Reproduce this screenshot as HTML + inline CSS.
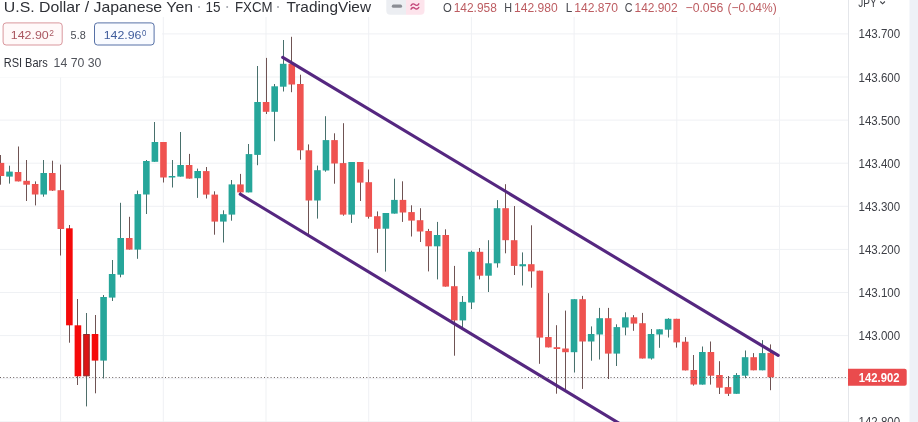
<!DOCTYPE html>
<html><head><meta charset="utf-8"><title>USDJPY chart</title>
<style>html,body{margin:0;padding:0;background:#fff;width:918px;height:422px;overflow:hidden;font-family:"Liberation Sans", sans-serif}</style>
</head><body>
<svg width="918" height="422" viewBox="0 0 918 422" style="display:block;will-change:transform;font-family:'Liberation Sans', sans-serif">
<rect x="60.10" y="17" width="1" height="405" fill="#eff1f4"/>
<rect x="162.80" y="17" width="1" height="405" fill="#eff1f4"/>
<rect x="265.50" y="17" width="1" height="405" fill="#eff1f4"/>
<rect x="368.20" y="17" width="1" height="405" fill="#eff1f4"/>
<rect x="470.90" y="17" width="1" height="405" fill="#eff1f4"/>
<rect x="573.60" y="17" width="1" height="405" fill="#eff1f4"/>
<rect x="676.30" y="17" width="1" height="405" fill="#eff1f4"/>
<rect x="779.00" y="17" width="1" height="405" fill="#eff1f4"/>
<rect x="0" y="33.40" width="848" height="1" fill="#eff1f4"/>
<rect x="0" y="76.50" width="848" height="1" fill="#eff1f4"/>
<rect x="0" y="119.60" width="848" height="1" fill="#eff1f4"/>
<rect x="0" y="162.70" width="848" height="1" fill="#eff1f4"/>
<rect x="0" y="205.80" width="848" height="1" fill="#eff1f4"/>
<rect x="0" y="248.90" width="848" height="1" fill="#eff1f4"/>
<rect x="0" y="292.00" width="848" height="1" fill="#eff1f4"/>
<rect x="0" y="335.10" width="848" height="1" fill="#eff1f4"/>
<rect x="0" y="378.20" width="848" height="1" fill="#eff1f4"/>
<rect x="0" y="421.30" width="848" height="1" fill="#eff1f4"/>
<rect x="0" y="155.0" width="1" height="29.7" fill="#6f5353"/>
<rect x="-2.36" y="162.9" width="6.6" height="13.1" fill="#ef5350"/>
<rect x="9" y="165.7" width="1" height="17.9" fill="#48706c"/>
<rect x="6.19" y="171.6" width="6.6" height="5.0" fill="#26a69a"/>
<rect x="18" y="146.5" width="1" height="34.9" fill="#6f5353"/>
<rect x="14.75" y="172.0" width="6.6" height="9.4" fill="#ef5350"/>
<rect x="26" y="160.0" width="1" height="41.0" fill="#6f5353"/>
<rect x="23.30" y="180.8" width="6.6" height="3.9" fill="#ef5350"/>
<rect x="35" y="181.4" width="1" height="24.0" fill="#6f5353"/>
<rect x="31.85" y="184.0" width="6.6" height="10.5" fill="#ef5350"/>
<rect x="43" y="160.0" width="1" height="36.7" fill="#48706c"/>
<rect x="40.41" y="173.0" width="6.6" height="21.5" fill="#26a69a"/>
<rect x="52" y="160.7" width="1" height="30.3" fill="#6f5353"/>
<rect x="48.96" y="173.0" width="6.6" height="17.6" fill="#ef5350"/>
<rect x="60" y="164.6" width="1" height="90.9" fill="#6f5353"/>
<rect x="57.52" y="190.2" width="6.6" height="38.8" fill="#ef5350"/>
<rect x="69" y="225.0" width="1" height="117.7" fill="#6f5353"/>
<rect x="66.07" y="228.3" width="6.6" height="97.0" fill="#f50a0a"/>
<rect x="77" y="299.0" width="1" height="86.0" fill="#6f5353"/>
<rect x="74.62" y="325.3" width="6.6" height="51.0" fill="#f50a0a"/>
<rect x="86" y="313.0" width="1" height="93.4" fill="#4f6e6a"/>
<rect x="83.68" y="334.5" width="5.6" height="41.3" fill="#dc1515" stroke="#8f2a2a" stroke-width="1"/>
<rect x="95" y="315.0" width="1" height="78.3" fill="#6f5353"/>
<rect x="91.73" y="334.0" width="6.6" height="26.6" fill="#f50a0a"/>
<rect x="103" y="295.0" width="1" height="83.5" fill="#48706c"/>
<rect x="100.28" y="297.0" width="6.6" height="63.6" fill="#26a69a"/>
<rect x="112" y="260.0" width="1" height="41.0" fill="#48706c"/>
<rect x="108.84" y="274.0" width="6.6" height="23.6" fill="#26a69a"/>
<rect x="120" y="202.8" width="1" height="74.5" fill="#48706c"/>
<rect x="117.39" y="238.0" width="6.6" height="36.7" fill="#26a69a"/>
<rect x="129" y="216.8" width="1" height="32.8" fill="#6f5353"/>
<rect x="125.95" y="238.0" width="6.6" height="11.6" fill="#ef5350"/>
<rect x="137" y="190.6" width="1" height="68.2" fill="#48706c"/>
<rect x="134.50" y="194.1" width="6.6" height="55.5" fill="#26a69a"/>
<rect x="146" y="160.0" width="1" height="54.0" fill="#48706c"/>
<rect x="143.05" y="161.0" width="6.6" height="33.5" fill="#26a69a"/>
<rect x="154" y="122.0" width="1" height="39.8" fill="#48706c"/>
<rect x="151.61" y="142.0" width="6.6" height="19.8" fill="#26a69a"/>
<rect x="163" y="142.0" width="1" height="40.5" fill="#6f5353"/>
<rect x="160.16" y="142.0" width="6.6" height="35.5" fill="#ef5350"/>
<rect x="172" y="160.0" width="1" height="27.5" fill="#48706c"/>
<rect x="168.71" y="176.0" width="6.6" height="1.5" fill="#26a69a"/>
<rect x="180" y="132.0" width="1" height="44.6" fill="#48706c"/>
<rect x="177.27" y="165.0" width="6.6" height="11.6" fill="#26a69a"/>
<rect x="189" y="153.9" width="1" height="24.7" fill="#6f5353"/>
<rect x="185.82" y="165.0" width="6.6" height="13.6" fill="#ef5350"/>
<rect x="197" y="168.6" width="1" height="29.3" fill="#48706c"/>
<rect x="194.38" y="171.0" width="6.6" height="7.2" fill="#26a69a"/>
<rect x="206" y="167.0" width="1" height="31.5" fill="#6f5353"/>
<rect x="202.93" y="171.1" width="6.6" height="23.5" fill="#ef5350"/>
<rect x="214" y="191.3" width="1" height="43.4" fill="#6f5353"/>
<rect x="211.48" y="194.6" width="6.6" height="27.0" fill="#ef5350"/>
<rect x="223" y="210.3" width="1" height="32.2" fill="#48706c"/>
<rect x="220.04" y="214.2" width="6.6" height="7.4" fill="#26a69a"/>
<rect x="231" y="180.0" width="1" height="40.7" fill="#48706c"/>
<rect x="228.59" y="184.4" width="6.6" height="30.2" fill="#26a69a"/>
<rect x="240" y="173.9" width="1" height="19.6" fill="#6f5353"/>
<rect x="237.14" y="184.4" width="6.6" height="8.0" fill="#ef5350"/>
<rect x="248" y="144.0" width="1" height="48.4" fill="#48706c"/>
<rect x="245.70" y="154.1" width="6.6" height="38.3" fill="#26a69a"/>
<rect x="257" y="66.0" width="1" height="99.2" fill="#48706c"/>
<rect x="254.25" y="102.0" width="6.6" height="52.9" fill="#26a69a"/>
<rect x="266" y="57.9" width="1" height="56.1" fill="#6f5353"/>
<rect x="262.80" y="102.0" width="6.6" height="9.8" fill="#ef5350"/>
<rect x="274" y="84.0" width="1" height="57.2" fill="#48706c"/>
<rect x="271.36" y="86.3" width="6.6" height="25.5" fill="#26a69a"/>
<rect x="283" y="40.0" width="1" height="51.5" fill="#48706c"/>
<rect x="279.91" y="63.8" width="6.6" height="22.9" fill="#26a69a"/>
<rect x="291" y="36.8" width="1" height="55.4" fill="#6f5353"/>
<rect x="288.47" y="63.8" width="6.6" height="20.7" fill="#ef5350"/>
<rect x="300" y="74.7" width="1" height="85.0" fill="#6f5353"/>
<rect x="297.02" y="84.0" width="6.6" height="66.3" fill="#ef5350"/>
<rect x="308" y="144.4" width="1" height="92.0" fill="#6f5353"/>
<rect x="305.57" y="150.3" width="6.6" height="50.2" fill="#ef5350"/>
<rect x="317" y="165.6" width="1" height="53.0" fill="#48706c"/>
<rect x="314.13" y="170.2" width="6.6" height="30.3" fill="#26a69a"/>
<rect x="325" y="116.2" width="1" height="55.5" fill="#48706c"/>
<rect x="322.68" y="140.1" width="6.6" height="30.4" fill="#26a69a"/>
<rect x="334" y="133.3" width="1" height="50.4" fill="#6f5353"/>
<rect x="331.23" y="140.1" width="6.6" height="23.4" fill="#ef5350"/>
<rect x="343" y="123.2" width="1" height="92.5" fill="#6f5353"/>
<rect x="339.79" y="163.1" width="6.6" height="51.5" fill="#ef5350"/>
<rect x="351" y="162.0" width="1" height="60.9" fill="#48706c"/>
<rect x="348.34" y="162.0" width="6.6" height="52.6" fill="#26a69a"/>
<rect x="360" y="162.0" width="1" height="39.0" fill="#6f5353"/>
<rect x="356.90" y="162.0" width="6.6" height="20.6" fill="#ef5350"/>
<rect x="368" y="169.5" width="1" height="49.1" fill="#6f5353"/>
<rect x="365.45" y="182.2" width="6.6" height="34.6" fill="#ef5350"/>
<rect x="377" y="211.4" width="1" height="41.4" fill="#6f5353"/>
<rect x="374.00" y="216.2" width="6.6" height="12.6" fill="#ef5350"/>
<rect x="385" y="213.0" width="1" height="58.6" fill="#48706c"/>
<rect x="382.56" y="213.0" width="6.6" height="15.7" fill="#26a69a"/>
<rect x="394" y="178.7" width="1" height="34.9" fill="#48706c"/>
<rect x="391.11" y="199.9" width="6.6" height="13.7" fill="#26a69a"/>
<rect x="402" y="181.3" width="1" height="40.6" fill="#6f5353"/>
<rect x="399.66" y="199.9" width="6.6" height="12.6" fill="#ef5350"/>
<rect x="411" y="205.3" width="1" height="31.2" fill="#6f5353"/>
<rect x="408.22" y="212.1" width="6.6" height="8.5" fill="#ef5350"/>
<rect x="420" y="208.2" width="1" height="33.8" fill="#6f5353"/>
<rect x="416.77" y="220.2" width="6.6" height="11.3" fill="#ef5350"/>
<rect x="428" y="228.9" width="1" height="42.5" fill="#6f5353"/>
<rect x="425.32" y="231.0" width="6.6" height="15.3" fill="#ef5350"/>
<rect x="437" y="221.9" width="1" height="57.5" fill="#48706c"/>
<rect x="433.88" y="235.0" width="6.6" height="11.3" fill="#26a69a"/>
<rect x="445" y="229.3" width="1" height="57.3" fill="#6f5353"/>
<rect x="442.43" y="235.0" width="6.6" height="51.6" fill="#ef5350"/>
<rect x="454" y="265.9" width="1" height="89.8" fill="#6f5353"/>
<rect x="450.99" y="286.2" width="6.6" height="34.2" fill="#ef5350"/>
<rect x="462" y="296.0" width="1" height="31.0" fill="#48706c"/>
<rect x="459.54" y="301.9" width="6.6" height="18.5" fill="#26a69a"/>
<rect x="471" y="250.7" width="1" height="58.3" fill="#48706c"/>
<rect x="468.09" y="251.8" width="6.6" height="50.7" fill="#26a69a"/>
<rect x="479" y="248.0" width="1" height="31.4" fill="#6f5353"/>
<rect x="476.65" y="251.8" width="6.6" height="23.9" fill="#ef5350"/>
<rect x="488" y="240.2" width="1" height="51.8" fill="#48706c"/>
<rect x="485.20" y="263.3" width="6.6" height="12.4" fill="#26a69a"/>
<rect x="497" y="200.1" width="1" height="67.5" fill="#48706c"/>
<rect x="493.75" y="208.2" width="6.6" height="55.1" fill="#26a69a"/>
<rect x="505" y="184.2" width="1" height="69.1" fill="#6f5353"/>
<rect x="502.31" y="208.2" width="6.6" height="32.0" fill="#ef5350"/>
<rect x="514" y="206.0" width="1" height="69.0" fill="#6f5353"/>
<rect x="510.86" y="240.2" width="6.6" height="25.7" fill="#ef5350"/>
<rect x="522" y="252.4" width="1" height="33.1" fill="#48706c"/>
<rect x="519.42" y="264.2" width="6.6" height="2.1" fill="#26a69a"/>
<rect x="531" y="225.3" width="1" height="62.4" fill="#6f5353"/>
<rect x="527.97" y="264.2" width="6.6" height="7.2" fill="#ef5350"/>
<rect x="539" y="270.7" width="1" height="93.1" fill="#6f5353"/>
<rect x="536.52" y="270.7" width="6.6" height="66.9" fill="#ef5350"/>
<rect x="548" y="293.2" width="1" height="54.2" fill="#6f5353"/>
<rect x="545.08" y="337.0" width="6.6" height="10.4" fill="#ef5350"/>
<rect x="556" y="325.2" width="1" height="68.5" fill="#6f5353"/>
<rect x="553.63" y="347.2" width="6.6" height="1.8" fill="#ef5350"/>
<rect x="565" y="310.6" width="1" height="79.4" fill="#6f5353"/>
<rect x="562.18" y="348.5" width="6.6" height="3.7" fill="#ef5350"/>
<rect x="574" y="299.2" width="1" height="73.3" fill="#48706c"/>
<rect x="570.74" y="299.2" width="6.6" height="53.0" fill="#26a69a"/>
<rect x="582" y="295.9" width="1" height="93.0" fill="#6f5353"/>
<rect x="579.29" y="299.2" width="6.6" height="42.3" fill="#ef5350"/>
<rect x="591" y="326.4" width="1" height="34.3" fill="#48706c"/>
<rect x="587.85" y="334.0" width="6.6" height="7.5" fill="#26a69a"/>
<rect x="599" y="307.9" width="1" height="51.6" fill="#48706c"/>
<rect x="596.40" y="318.2" width="6.6" height="16.3" fill="#26a69a"/>
<rect x="608" y="307.9" width="1" height="71.1" fill="#6f5353"/>
<rect x="604.95" y="318.2" width="6.6" height="35.4" fill="#ef5350"/>
<rect x="616" y="324.3" width="1" height="41.7" fill="#48706c"/>
<rect x="613.51" y="327.1" width="6.6" height="26.5" fill="#26a69a"/>
<rect x="625" y="312.3" width="1" height="23.0" fill="#48706c"/>
<rect x="622.06" y="317.3" width="6.6" height="10.2" fill="#26a69a"/>
<rect x="633" y="315.1" width="1" height="15.7" fill="#6f5353"/>
<rect x="630.61" y="317.3" width="6.6" height="6.3" fill="#ef5350"/>
<rect x="642" y="312.9" width="1" height="45.6" fill="#6f5353"/>
<rect x="639.17" y="323.2" width="6.6" height="35.3" fill="#ef5350"/>
<rect x="651" y="329.0" width="1" height="30.6" fill="#48706c"/>
<rect x="647.72" y="334.0" width="6.6" height="24.5" fill="#26a69a"/>
<rect x="659" y="329.3" width="1" height="18.5" fill="#48706c"/>
<rect x="656.27" y="329.3" width="6.6" height="5.2" fill="#26a69a"/>
<rect x="668" y="318.2" width="1" height="19.3" fill="#48706c"/>
<rect x="664.83" y="318.8" width="6.6" height="10.9" fill="#26a69a"/>
<rect x="676" y="318.8" width="1" height="28.8" fill="#6f5353"/>
<rect x="673.38" y="318.8" width="6.6" height="23.6" fill="#ef5350"/>
<rect x="685" y="337.1" width="1" height="33.3" fill="#6f5353"/>
<rect x="681.94" y="341.7" width="6.6" height="28.7" fill="#ef5350"/>
<rect x="693" y="355.0" width="1" height="30.6" fill="#6f5353"/>
<rect x="690.49" y="370.0" width="6.6" height="14.5" fill="#ef5350"/>
<rect x="702" y="346.5" width="1" height="38.1" fill="#48706c"/>
<rect x="699.04" y="352.0" width="6.6" height="32.6" fill="#26a69a"/>
<rect x="710" y="341.5" width="1" height="43.1" fill="#6f5353"/>
<rect x="707.60" y="352.0" width="6.6" height="23.7" fill="#ef5350"/>
<rect x="719" y="361.2" width="1" height="32.8" fill="#6f5353"/>
<rect x="716.15" y="375.0" width="6.6" height="12.7" fill="#ef5350"/>
<rect x="728" y="376.0" width="1" height="20.0" fill="#6f5353"/>
<rect x="724.70" y="387.1" width="6.6" height="6.7" fill="#ef5350"/>
<rect x="736" y="373.1" width="1" height="20.7" fill="#48706c"/>
<rect x="733.26" y="375.0" width="6.6" height="18.8" fill="#26a69a"/>
<rect x="745" y="350.5" width="1" height="27.7" fill="#48706c"/>
<rect x="741.81" y="357.2" width="6.6" height="18.5" fill="#26a69a"/>
<rect x="753" y="353.1" width="1" height="17.2" fill="#6f5353"/>
<rect x="750.37" y="357.2" width="6.6" height="13.1" fill="#ef5350"/>
<rect x="762" y="340.1" width="1" height="30.2" fill="#48706c"/>
<rect x="758.92" y="353.1" width="6.6" height="17.2" fill="#26a69a"/>
<rect x="770" y="344.4" width="1" height="45.8" fill="#6f5353"/>
<rect x="767.47" y="352.8" width="6.6" height="24.5" fill="#ef5350"/>
<line x1="282.7" y1="57.3" x2="778.2" y2="355.39" stroke="#552780" stroke-width="3.1" stroke-linecap="round"/>
<line x1="240.2" y1="194.2" x2="660" y2="448.01" stroke="#552780" stroke-width="3.1" stroke-linecap="round"/>
<line x1="0" y1="377.5" x2="848" y2="377.5" stroke="#6a6060" stroke-width="1" stroke-dasharray="1 2.3"/>
<rect x="0" y="0" width="848" height="17" fill="#ffffff"/>
<rect x="0" y="0" width="162" height="77.3" fill="#ffffff"/>
<rect x="848" y="0" width="70" height="422" fill="#ffffff"/>
<rect x="848" y="0" width="1" height="422" fill="#e4e6ea"/>
<rect x="909.5" y="0" width="8.5" height="422" fill="#eef1f7"/>
<text x="858.5" y="38.4" font-size="12.5" fill="#3e4047" font-weight="normal" text-anchor="start" textLength="41.6" lengthAdjust="spacingAndGlyphs">143.700</text>
<text x="858.5" y="81.5" font-size="12.5" fill="#3e4047" font-weight="normal" text-anchor="start" textLength="41.6" lengthAdjust="spacingAndGlyphs">143.600</text>
<text x="858.5" y="124.6" font-size="12.5" fill="#3e4047" font-weight="normal" text-anchor="start" textLength="41.6" lengthAdjust="spacingAndGlyphs">143.500</text>
<text x="858.5" y="167.70000000000002" font-size="12.5" fill="#3e4047" font-weight="normal" text-anchor="start" textLength="41.6" lengthAdjust="spacingAndGlyphs">143.400</text>
<text x="858.5" y="210.8" font-size="12.5" fill="#3e4047" font-weight="normal" text-anchor="start" textLength="41.6" lengthAdjust="spacingAndGlyphs">143.300</text>
<text x="858.5" y="253.9" font-size="12.5" fill="#3e4047" font-weight="normal" text-anchor="start" textLength="41.6" lengthAdjust="spacingAndGlyphs">143.200</text>
<text x="858.5" y="297.0" font-size="12.5" fill="#3e4047" font-weight="normal" text-anchor="start" textLength="41.6" lengthAdjust="spacingAndGlyphs">143.100</text>
<text x="858.5" y="340.09999999999997" font-size="12.5" fill="#3e4047" font-weight="normal" text-anchor="start" textLength="41.6" lengthAdjust="spacingAndGlyphs">143.000</text>
<text x="858.5" y="383.2" font-size="12.5" fill="#3e4047" font-weight="normal" text-anchor="start" textLength="41.6" lengthAdjust="spacingAndGlyphs">142.900</text>
<text x="858.5" y="426.3" font-size="12.5" fill="#3e4047" font-weight="normal" text-anchor="start" textLength="41.6" lengthAdjust="spacingAndGlyphs">142.800</text>
<path d="M848,368.8 H904.7 a2,2 0 0 1 2,2 V383.7 a2,2 0 0 1 -2,2 H848 Z" fill="#ea4b4d"/>
<text x="858.8" y="382" font-size="12.5" fill="#ffffff" font-weight="bold" text-anchor="start" textLength="40.7" lengthAdjust="spacingAndGlyphs">142.902</text>
<text x="858.2" y="6.6" font-size="12.5" fill="#3e4047" font-weight="normal" text-anchor="start" textLength="18.4" lengthAdjust="spacingAndGlyphs">JPY</text>
<path d="M880.3,1.5 L882.6,3.8 L884.9,1.5" fill="none" stroke="#3e4047" stroke-width="1.1"/>
<text x="3.8" y="11.7" font-size="14.5" fill="#2e3036" font-weight="normal" text-anchor="start" textLength="189.2" lengthAdjust="spacingAndGlyphs">U.S. Dollar / Japanese Yen</text>
<circle cx="199" cy="7" r="1" fill="#a0a3aa"/>
<text x="205.5" y="11.7" font-size="14.5" fill="#2e3036" font-weight="normal" text-anchor="start" textLength="15" lengthAdjust="spacingAndGlyphs">15</text>
<circle cx="227.2" cy="7" r="1" fill="#a0a3aa"/>
<text x="235" y="11.7" font-size="14.5" fill="#2e3036" font-weight="normal" text-anchor="start" textLength="37.6" lengthAdjust="spacingAndGlyphs">FXCM</text>
<circle cx="278" cy="7" r="1" fill="#a0a3aa"/>
<text x="286.4" y="11.7" font-size="14.5" fill="#2e3036" font-weight="normal" text-anchor="start" textLength="84.6" lengthAdjust="spacingAndGlyphs">TradingView</text>
<path d="M386.3,0 H406 V14.7 H390.3 a4,4 0 0 1 -4,-4 Z" fill="#eceef2"/>
<path d="M406,0 H424.5 V10.7 a4,4 0 0 1 -4,4 H406 Z" fill="#fde4ec"/>
<rect x="391.8" y="4.6" width="10.3" height="3.2" rx="1.6" fill="#8a8d94"/>
<path d="M411,5.6 C412.3,3.4 413.8,3.6 414.8,4.6 S417.4,6 418.8,3.8 M411,9.2 C412.3,7 413.8,7.2 414.8,8.2 S417.4,9.6 418.8,7.4" fill="none" stroke="#c4477a" stroke-width="1.35" stroke-linecap="round"/>
<text x="442.9" y="11.8" font-size="12.5" fill="#47494f" font-weight="normal" text-anchor="start" textLength="8.8" lengthAdjust="spacingAndGlyphs">O</text>
<text x="453.7" y="11.8" font-size="12.5" fill="#bd5d62" font-weight="normal" text-anchor="start" textLength="43.1" lengthAdjust="spacingAndGlyphs">142.958</text>
<text x="504.3" y="11.8" font-size="12.5" fill="#47494f" font-weight="normal" text-anchor="start" textLength="7.8" lengthAdjust="spacingAndGlyphs">H</text>
<text x="514" y="11.8" font-size="12.5" fill="#bd5d62" font-weight="normal" text-anchor="start" textLength="43.6" lengthAdjust="spacingAndGlyphs">142.980</text>
<text x="565.8" y="11.8" font-size="12.5" fill="#47494f" font-weight="normal" text-anchor="start" textLength="6.5" lengthAdjust="spacingAndGlyphs">L</text>
<text x="574.3" y="11.8" font-size="12.5" fill="#bd5d62" font-weight="normal" text-anchor="start" textLength="43.7" lengthAdjust="spacingAndGlyphs">142.870</text>
<text x="624.7" y="11.8" font-size="12.5" fill="#47494f" font-weight="normal" text-anchor="start" textLength="7.8" lengthAdjust="spacingAndGlyphs">C</text>
<text x="634.5" y="11.8" font-size="12.5" fill="#bd5d62" font-weight="normal" text-anchor="start" textLength="43.1" lengthAdjust="spacingAndGlyphs">142.902</text>
<text x="685.5" y="11.8" font-size="12.5" fill="#bd5d62" font-weight="normal" text-anchor="start" textLength="37.8" lengthAdjust="spacingAndGlyphs">−0.056</text>
<text x="727.6" y="11.8" font-size="12.5" fill="#bd5d62" font-weight="normal" text-anchor="start" textLength="49.1" lengthAdjust="spacingAndGlyphs">(−0.04%)</text>
<rect x="3.1" y="22.9" width="59.1" height="22.1" rx="3" fill="#fff9f9" stroke="#d9979d" stroke-width="1"/>
<text x="10.8" y="38.6" font-size="11.5" fill="#a9565f" font-weight="normal" text-anchor="start" textLength="38" lengthAdjust="spacingAndGlyphs">142.90</text>
<text x="49.3" y="36.3" font-size="8.5" fill="#a9565f" font-weight="normal" text-anchor="start" textLength="4.7" lengthAdjust="spacingAndGlyphs">2</text>
<text x="70.6" y="38.6" font-size="11.5" fill="#4a4d55" font-weight="normal" text-anchor="start" textLength="15.1" lengthAdjust="spacingAndGlyphs">5.8</text>
<rect x="94.5" y="22.9" width="59.6" height="22.1" rx="3" fill="#f9fbff" stroke="#5670a6" stroke-width="1"/>
<text x="103.7" y="38.6" font-size="11.5" fill="#3f5c9c" font-weight="normal" text-anchor="start" textLength="37.8" lengthAdjust="spacingAndGlyphs">142.96</text>
<text x="142" y="36.3" font-size="8.5" fill="#3f5c9c" font-weight="normal" text-anchor="start" textLength="4.3" lengthAdjust="spacingAndGlyphs">0</text>
<text x="3.7" y="66.7" font-size="12" fill="#2f323a" font-weight="normal" text-anchor="start" textLength="44" lengthAdjust="spacingAndGlyphs">RSI Bars</text>
<text x="53.6" y="66.7" font-size="12" fill="#50535b" font-weight="normal" text-anchor="start" textLength="47.7" lengthAdjust="spacingAndGlyphs">14 70 30</text>
</svg>
</body></html>
